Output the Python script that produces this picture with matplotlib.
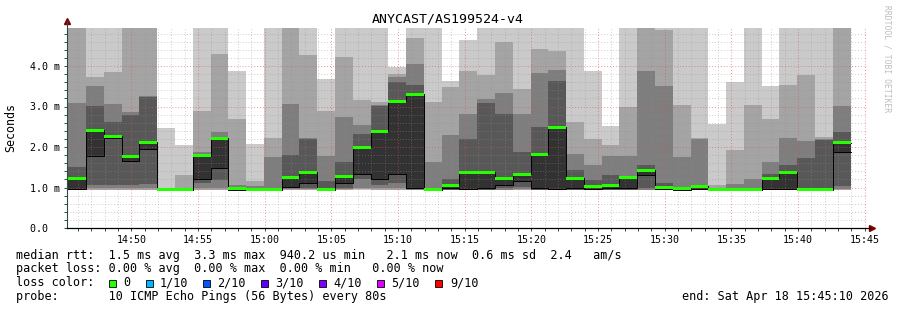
import numpy as np
import matplotlib.pyplot as plt
from matplotlib.patches import Rectangle

plt.rcParams['font.family'] = 'DejaVu Sans Mono'

# 10 pings per 80s step, sorted from fastest (p1) to slowest (p10), in ms
# values above the top of the graph are just clipped by rrdtool
T = 6.0
p10 = [T, T, T, T, T, 2.47, 2.04, T, T, 3.87, 2.08, T, T, T, 3.69, T, T, T, 3.97, T, T, 3.62,
       4.65, T, T, T, T, T, T, 3.87, 2.53, T, T, T, T, T, 2.58, 3.60, T, 3.50, T, T, T, T]
p9 = [T, 3.73, 3.85, T, T, 0.98, 1.30, 2.88, 4.30, 2.70, 1.15, 2.22, T, 4.28, 2.90, 4.22, 3.15, 3.11,
      3.80, 4.69, 3.11, 3.48, 3.87, 3.77, 4.59, 3.44, 4.43, 4.37, 2.62, 2.20, 2.04, 2.99, T, 4.90,
      3.04, 2.22, 1.05, 1.92, 3.03, 2.68, 3.52, 3.77, 2.24, T]
p8 = [3.09, 3.50, 3.07, 2.86, 3.26, 0.96, 0.97, 1.88, 2.37, 1.07, 1.03, 1.75, 3.07, 2.22, 1.79, 2.74,
      2.55, 3.04, 3.72, 4.06, 1.63, 2.29, 2.82, 3.19, 3.34, 2.82, 3.83, 3.89, 1.83, 1.55, 1.79, 1.79,
      3.87, 3.50, 1.75, 2.20, 0.97, 1.09, 1.22, 1.63, 2.22, 2.15, 2.20, 3.01]
p7 = [1.51, 3.01, 2.62, 2.78, 3.24, 0.95, 0.95, 1.81, 2.25, 0.97, 0.96, 0.97, 1.81, 2.20, 1.17, 1.63,
      2.33, 3.02, 3.60, 3.52, 0.98, 1.22, 2.19, 3.09, 2.82, 1.88, 2.49, 3.64, 1.42, 1.18, 1.30, 1.26,
      1.56, 1.10, 1.00, 1.05, 0.95, 0.97, 0.97, 1.34, 1.56, 1.74, 2.18, 2.38]
p6 = [1.24, 2.43, 2.26, 1.78, 2.12, 0.95, 0.95, 1.79, 2.22, 0.96, 0.95, 0.95, 1.24, 1.38, 0.96, 1.28,
      2.00, 2.40, 3.14, 3.30, 0.95, 1.07, 1.38, 1.38, 1.22, 1.34, 1.82, 2.50, 1.24, 1.03, 1.06, 1.24,
      1.42, 0.99, 0.97, 1.03, 0.94, 0.95, 0.96, 1.23, 1.38, 0.96, 0.96, 2.11]
p5 = [0.97, 1.79, 2.22, 1.66, 1.96, 0.94, 0.94, 1.22, 1.48, 0.95, 0.94, 0.94, 1.01, 1.10, 0.95, 1.12,
      1.34, 1.22, 1.34, 0.98, 0.94, 0.98, 0.97, 0.98, 1.05, 1.15, 0.98, 0.97, 0.98, 0.97, 0.98, 0.98,
      1.30, 0.96, 0.95, 0.96, 0.94, 0.94, 0.95, 0.97, 0.97, 0.95, 0.95, 1.88]
p4 = [0.96, 1.05, 1.05, 1.05, 1.09, 0.94, 0.94, 1.10, 1.18, 0.94, 0.94, 0.94, 0.98, 0.99, 0.94, 1.00,
      1.22, 1.05, 1.12, 0.96, 0.94, 0.95, 0.95, 0.95, 0.98, 1.01, 0.95, 0.95, 0.95, 0.95, 0.95, 0.95,
      0.98, 0.95, 0.94, 0.95, 0.94, 0.94, 0.94, 0.95, 0.95, 0.94, 0.94, 1.04]
p3 = [0.95, 0.98, 0.98, 0.98, 0.98, 0.94, 0.94, 0.98, 0.98, 0.94, 0.94, 0.94, 0.96, 0.96, 0.94, 0.97,
      1.00, 0.98, 0.98, 0.95, 0.94, 0.94, 0.94, 0.94, 0.95, 0.97, 0.94, 0.94, 0.94, 0.94, 0.94, 0.94,
      0.95, 0.94, 0.94, 0.94, 0.94, 0.94, 0.94, 0.94, 0.94, 0.94, 0.94, 0.96]
p2 = [0.94, 0.95, 0.95, 0.95, 0.95, 0.94, 0.94, 0.95, 0.95, 0.94, 0.94, 0.94, 0.95, 0.95, 0.94, 0.95,
      0.96, 0.95, 0.95, 0.94, 0.94, 0.94, 0.94, 0.94, 0.94, 0.95, 0.94, 0.94, 0.94, 0.94, 0.94, 0.94,
      0.94, 0.94, 0.94, 0.94, 0.94, 0.94, 0.94, 0.94, 0.94, 0.94, 0.94, 0.95]
p1 = [0.93] * 44
median = [1.23, 2.41, 2.26, 1.76, 2.11, 0.95, 0.95, 1.79, 2.22, 0.97, 0.95, 0.95, 1.24, 1.37, 0.95, 1.28,
          1.99, 2.39, 3.13, 3.29, 0.95, 1.06, 1.37, 1.38, 1.22, 1.33, 1.81, 2.49, 1.23, 1.02, 1.05, 1.24,
          1.41, 0.99, 0.97, 1.03, 0.94, 0.94, 0.96, 1.23, 1.37, 0.95, 0.95, 2.11]

time_labels = ['14:50', '14:55', '15:00', '15:05', '15:10', '15:15',
               '15:20', '15:25', '15:30', '15:35', '15:40', '15:45']
y_labels = ['0.0  ', '1.0 m', '2.0 m', '3.0 m', '4.0 m']

loss_labels = ['0', '1/10', '2/10', '3/10', '4/10', '5/10', '9/10']
loss_colors = ['#26ff00', '#00b8ff', '#0059ff', '#5e00ff', '#7e00ff', '#dd00ff', '#ff0000']

W, H = 897, 310
fig = plt.figure(figsize=(W / 100, H / 100), dpi=100)
fig.patch.set_facecolor('white')
ax = fig.add_axes([67 / W, 82 / H, 800 / W, 200 / H])

# x in minutes since 14:45:10
step = 80 / 60
n = len(median)
edges = 0.1 + step * np.arange(n + 1)

def ext(v):
    return list(v) + [v[-1]]

lows = [p1, p2, p3, p4, p5]
highs = [p10, p9, p8, p7, p6]
shades = ['#cacaca', '#a4a4a4', '#7e7e7e', '#585858', '#323232']
for lo, hi, c in zip(lows, highs, shades):
    ax.fill_between(edges, ext(lo), ext(hi), step='post', color=c, lw=0, zorder=1)

for v in (p5, p6):
    ax.step(edges, ext(v), where='post', color='black', lw=0.7, zorder=3)

ax.bar(edges[:-1], 0.075, bottom=np.array(median) - 0.0375, width=step, align='edge',
       color=loss_colors[0], lw=0, zorder=4)

ax.set_xlim(0, 60)
ax.set_ylim(0, 200 / 40.5)

xt = 4 + 50 / 60 + 5 * np.arange(len(time_labels))
ax.set_xticks(xt)
ax.set_xticklabels(time_labels)
ax.set_xticks(np.arange(0.8333, 60, 1), minor=True)
ax.set_yticks(np.arange(len(y_labels)))
ax.set_yticklabels(y_labels)
ax.set_yticks(np.arange(0, 4.95, 0.2), minor=True)
ax.tick_params(which='both', length=2, width=0.7, color='#2c4d43', labelsize=7.2, pad=3)

ax.grid(which='minor', color='#8f8f8f', alpha=0.45, ls=(0, (1, 2)), lw=0.7)
ax.grid(which='major', color='#de5050', alpha=0.6, ls=(0, (1, 2)), lw=0.7)
ax.set_axisbelow(False)

for s in ('top', 'right', 'left', 'bottom'):
    ax.spines[s].set_visible(False)
ax.plot([0, 0], [0, 1.035], transform=ax.transAxes, color='#2c4d43', lw=0.8, clip_on=False, zorder=5)
ax.plot([0, 1.004], [0, 0], transform=ax.transAxes, color='black', lw=0.9, clip_on=False, zorder=5)
ax.plot([0], [1.035], marker='^', ms=4, color='#7f0000', transform=ax.transAxes, clip_on=False)
ax.plot([1.006], [0], marker='>', ms=4, color='#7f0000', transform=ax.transAxes, clip_on=False)

def fy(y):
    return 1 - y / H

fig.text(448 / W, fy(19), 'ANYCAST/AS199524-v4', ha='center', va='center', size=9.5)
fig.text(11 / W, fy(127), 'Seconds', rotation=90, ha='center', va='center', size=8.4)
fig.text(887 / W, fy(59), 'RRDTOOL / TOBI OETIKER', rotation=270, ha='center', va='center',
         size=5.8, color='#bdbdbd')

fs = 8.43
fig.text(16 / W, fy(255), 'median rtt:  1.5 ms avg  3.3 ms max  940.2 us min   2.1 ms now  0.6 ms sd  2.4   am/s',
         va='center', size=fs)
fig.text(16 / W, fy(268.5), 'packet loss: 0.00 % avg  0.00 % max  0.00 % min   0.00 % now',
         va='center', size=fs)
fig.text(16 / W, fy(282.7), 'loss color:', va='center', size=fs)
box_x = [108.7, 146, 202.7, 261, 319, 376.7, 435]
label_x = [123.3, 159.3, 216.7, 275.3, 333.3, 390.7, 450]
for bx, lx, lab, c in zip(box_x, label_x, loss_labels, loss_colors):
    fig.patches.append(Rectangle((bx / W, fy(286.5)), 7 / W, 7 / H, transform=fig.transFigure,
                                 facecolor=c, edgecolor='black', lw=0.6))
    fig.text(lx / W, fy(282.7), lab, va='center', size=fs)
fig.text(16 / W, fy(296.7), 'probe:       10 ICMP Echo Pings (56 Bytes) every 80s', va='center', size=fs)
fig.text(889 / W, fy(296.7), 'end: Sat Apr 18 15:45:10 2026', ha='right', va='center', size=fs)

fig.savefig('out.png', dpi=100)
